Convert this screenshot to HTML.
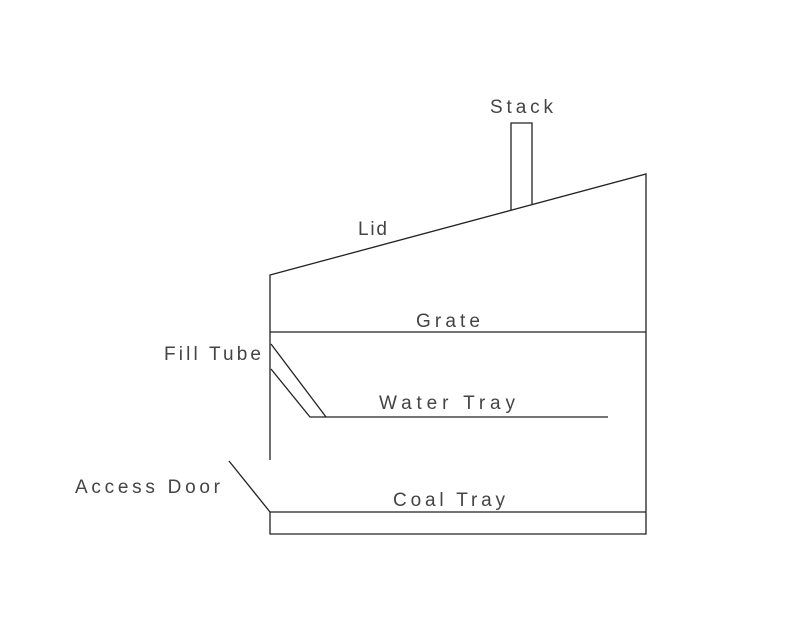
<!DOCTYPE html>
<html><head><style>
body{margin:0;background:#fff}
svg text{font-family:"Liberation Sans",sans-serif;font-size:19px;fill:#444}
</style></head><body>
<svg width="800" height="618" viewBox="0 0 800 618" xmlns="http://www.w3.org/2000/svg">
<rect width="800" height="618" fill="#fff"/>
<g stroke="#222" stroke-width="1.3" fill="none">
<polyline points="270,460 270,275 646,174 646,534 270,534 270,512 646,512"/>
<line x1="270" y1="332" x2="646" y2="332"/>
<polyline points="271,344 326,417 608,417"/>
<polyline points="271,369 310,417 326,417"/>
<line x1="229" y1="461" x2="270" y2="512"/>
<polyline points="511,210 511,123 532,123 532,204"/>
</g>
<text x="490" y="113" textLength="63" lengthAdjust="spacing">Stack</text>
<text x="358" y="235" textLength="29" lengthAdjust="spacing">Lid</text>
<text x="416" y="327" textLength="64" lengthAdjust="spacing">Grate</text>
<text x="164" y="360" textLength="97" lengthAdjust="spacing">Fill Tube</text>
<text x="379" y="409" textLength="136" lengthAdjust="spacing">Water Tray</text>
<text x="75" y="493" textLength="145" lengthAdjust="spacing">Access Door</text>
<text x="393" y="506" textLength="112" lengthAdjust="spacing">Coal Tray</text>
</svg>
</body></html>
